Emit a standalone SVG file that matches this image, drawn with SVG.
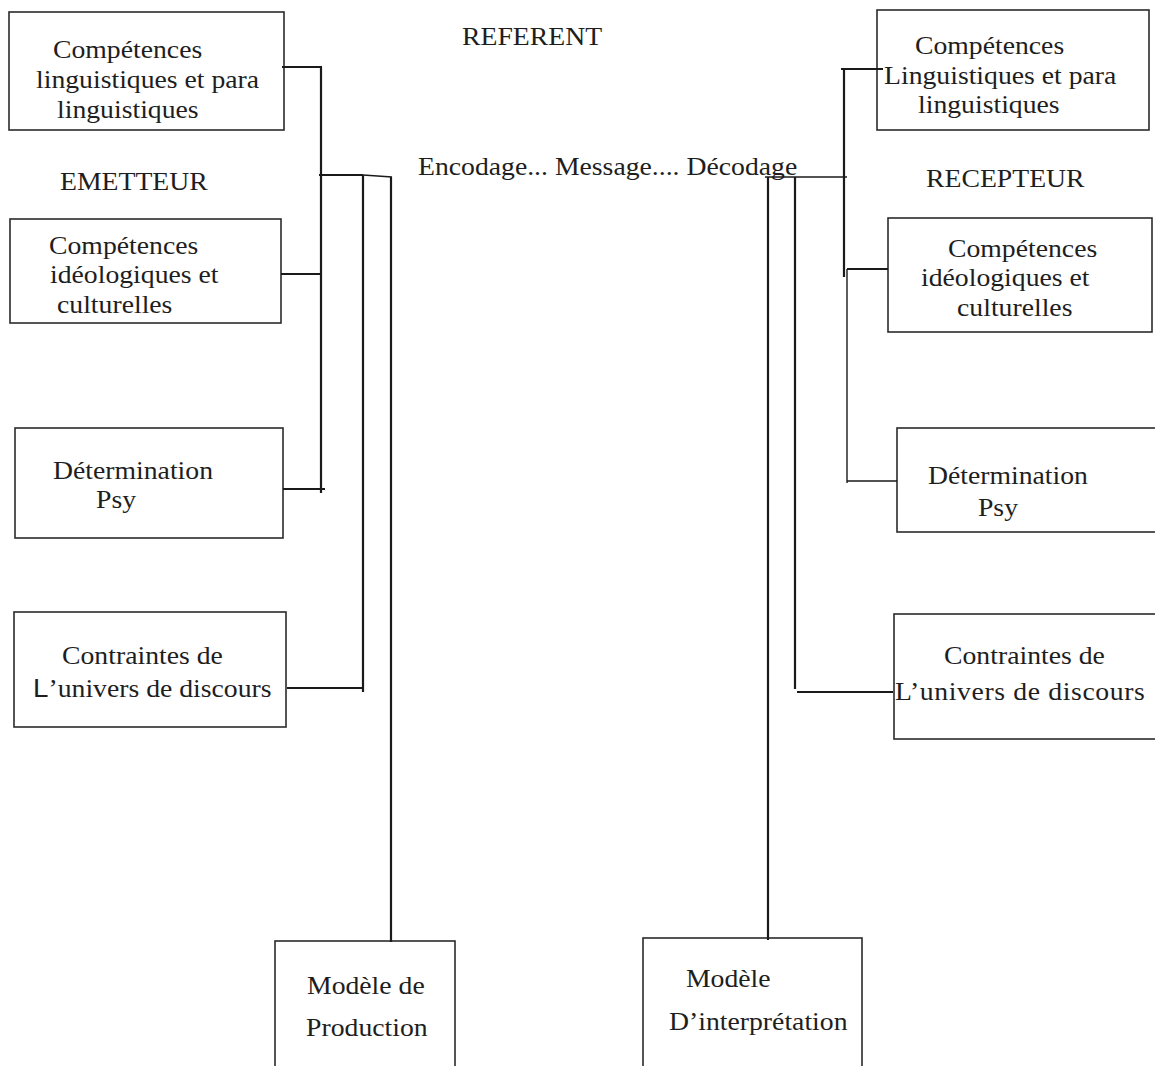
<svg xmlns="http://www.w3.org/2000/svg" width="1155" height="1066" viewBox="0 0 1155 1066">
  <style>
    .box { fill: #ffffff; stroke: #2b2b2b; stroke-width: 1.6; }
    .t { font-family: "Liberation Serif", "Times New Roman", serif; font-size: 26px; fill: #1e1e1e; }
    .sans { font-family: "Liberation Sans", Arial, sans-serif; }
    .wire { fill: none; stroke: #1a1a1a; stroke-width: 2.2; }
    .thin { fill: none; stroke: #1a1a1a; stroke-width: 1.4; }
  </style>
  <rect width="1155" height="1066" fill="#ffffff"/>

  <!-- text is set slightly wide: x values are in the stretched (1/1.066) frame -->
  <!-- free labels -->
  <g id="labels">
    <text class="t" transform="scale(1.066,1)" x="433.4" y="45">REFERENT</text>
    <text class="t" transform="scale(1.066,1)" x="56.3" y="190">EMETTEUR</text>
    <text class="t" transform="scale(1.066,1)" x="868.7" y="187">RECEPTEUR</text>
    <text class="t" transform="scale(1.066,1)" x="392.1" y="175">Encodage... Message.... Décodage</text>
  </g>

  <!-- sender side -->
  <g id="emetteur-linguistiques">
    <rect class="box" x="9" y="12" width="275" height="118"/>
    <text class="t" transform="scale(1.066,1)" x="49.7" y="58">Compétences</text>
    <text class="t" transform="scale(1.066,1)" x="33.8" y="88">linguistiques et para</text>
    <text class="t" transform="scale(1.066,1)" x="53.5" y="118">linguistiques</text>
  </g>
  <g id="emetteur-ideologiques">
    <rect class="box" x="10" y="219" width="271" height="104"/>
    <text class="t" transform="scale(1.066,1)" x="46" y="254">Compétences</text>
    <text class="t" transform="scale(1.066,1)" x="46.9" y="283">idéologiques et</text>
    <text class="t" transform="scale(1.066,1)" x="53.5" y="313">culturelles</text>
  </g>
  <g id="emetteur-psy">
    <rect class="box" x="15" y="428" width="268" height="110"/>
    <text class="t" transform="scale(1.066,1)" x="49.7" y="479">Détermination</text>
    <text class="t" transform="scale(1.066,1)" x="90.1" y="508">Psy</text>
  </g>
  <g id="emetteur-contraintes">
    <rect class="box" x="14" y="612" width="272" height="115"/>
    <text class="t" transform="scale(1.066,1)" x="58.2" y="664">Contraintes de</text>
    <text class="t" transform="scale(1.066,1)" x="31" y="697"><tspan class="sans">L</tspan>’univers de discours</text>
  </g>

  <!-- receiver side -->
  <g id="recepteur-linguistiques">
    <rect class="box" x="877" y="10" width="272" height="120"/>
    <text class="t" transform="scale(1.066,1)" x="858.3" y="54">Compétences</text>
    <text class="t" transform="scale(1.066,1)" x="829.3" y="84">Linguistiques et para</text>
    <text class="t" transform="scale(1.066,1)" x="861.2" y="113">linguistiques</text>
  </g>
  <g id="recepteur-ideologiques">
    <rect class="box" x="888" y="218" width="264" height="114"/>
    <text class="t" transform="scale(1.066,1)" x="889.3" y="257">Compétences</text>
    <text class="t" transform="scale(1.066,1)" x="864" y="286">idéologiques et</text>
    <text class="t" transform="scale(1.066,1)" x="897.8" y="316">culturelles</text>
  </g>
  <g id="recepteur-psy">
    <rect class="box" x="897" y="428" width="270" height="104"/>
    <text class="t" transform="scale(1.066,1)" x="870.5" y="484">Détermination</text>
    <text class="t" transform="scale(1.066,1)" x="917.4" y="516">Psy</text>
  </g>
  <g id="recepteur-contraintes">
    <rect class="box" x="894" y="614" width="273" height="125"/>
    <text class="t" transform="scale(1.066,1)" x="885.6" y="664">Contraintes de</text>
    <text class="t" transform="scale(1.066,1)" x="839.5" y="700" textLength="234.5" lengthAdjust="spacing">L’univers de discours</text>
  </g>

  <!-- output models -->
  <g id="modele-production">
    <rect class="box" x="275" y="941" width="180" height="140"/>
    <text class="t" transform="scale(1.066,1)" x="288" y="994">Modèle de</text>
    <text class="t" transform="scale(1.066,1)" x="287.1" y="1036">Production</text>
  </g>
  <g id="modele-interpretation">
    <rect class="box" x="643" y="938" width="219" height="140"/>
    <text class="t" transform="scale(1.066,1)" x="643.5" y="987">Modèle</text>
    <text class="t" transform="scale(1.066,1)" x="627.6" y="1030">D’interprétation</text>
  </g>

  <!-- connectors -->
  <g id="connectors">
    <!-- sender bus -->
    <path class="wire" d="M282,67 H322 M321,67 V493 M281,274 H322 M283,489 H325"/>
    <path class="wire" d="M319,175 H363 M363,175 V692 M287,688 H363"/>
    <path class="thin" d="M363,175 L392,177"/>
    <path class="wire" d="M391,177 V942"/>
    <!-- receiver bus -->
    <path class="wire" d="M841,69 H883 M844,69 V277 M847,269 H888"/>
    <path class="thin" d="M847,269 V483 M847,481 H897"/>
    <path class="thin" d="M765,177 H847"/>
    <path class="wire" d="M768,177 V940 M795,177 V689 M797,692 H893"/>
  </g>
</svg>
